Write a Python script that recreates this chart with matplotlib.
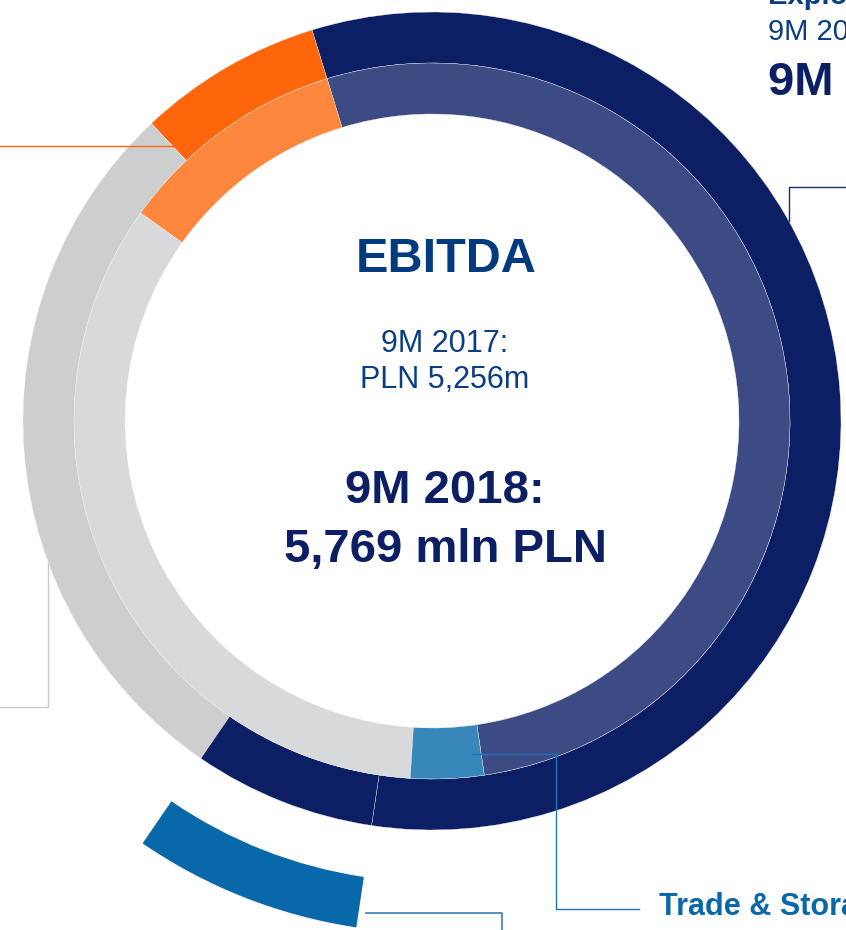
import matplotlib
matplotlib.use("Agg")
import matplotlib.pyplot as plt
from matplotlib.patches import Wedge

plt.rcParams['font.family'] = ['Liberation Sans', 'DejaVu Sans']

# shares of the full circle (%)
outer_names = ["Exploration & Production", "Generation (2017)", "Distribution (2017)", "Trade & Storage (2017)"]
outer_share = [57.1, 7.3, 28.4, 7.2]
outer_colors = ["#0C1E64", "#FF650A", "#CDCED0", "#0C1E64"]
outer_start = 261.5

inner_names = ["Exploration & Production", "Generation", "Distribution", "Trade & Storage"]
inner_share = [52.4, 10.4, 33.9, 3.3]
inner_colors = ["#3C4B84", "#FF873D", "#D8D9DB", "#3887BA"]
inner_start = 278.4

highlight_color = "#0868AA"

W, H = 846, 930
cx, cy = 432, H - 421
r_out, ring_w = 409, 51


def Y(y_img):
    return H - y_img


fig = plt.figure(figsize=(W / 100, H / 100), dpi=100)
ax = fig.add_axes([0, 0, 1, 1])

wp = dict(width=ring_w, edgecolor="#F4F4F6", linewidth=0.25)
ax.pie(outer_share, colors=outer_colors, startangle=outer_start, counterclock=True,
       radius=r_out, center=(cx, cy), wedgeprops=wp)
ax.pie(inner_share, colors=inner_colors, startangle=inner_start, counterclock=True,
       radius=r_out - ring_w, center=(cx, cy), wedgeprops=wp)

# pulled-out arc for the last outer segment
t2 = outer_start
t1 = t2 - outer_share[-1] * 3.6
ax.add_patch(Wedge((cx, cy), 512, t1, t2, width=ring_w, facecolor=highlight_color,
                   edgecolor="none"))

# leader lines
ax.plot([0, 175], [Y(146), Y(146)], color="#FF650A", lw=1)
ax.plot([48, 48, 0], [Y(563), Y(707), Y(707)], color="#CCCCCC", lw=1)
ax.plot([846, 789, 789], [Y(187), Y(187), Y(221)], color="#1A2A6E", lw=1)
ax.plot([472, 556, 556, 639], [Y(754), Y(754), Y(909), Y(909)], color="#1F72B8", lw=1)
ax.plot([366, 502, 502], [Y(913), Y(913), Y(930)], color="#3A80C0", lw=1.2)

# centre text
ax.text(446, Y(272), "EBITDA", ha="center", va="baseline", fontsize=35,
        fontweight="bold", color="#003B80")
ax.text(445, Y(352), "9M 2017:", ha="center", va="baseline", fontsize=22, color="#0B3C84")
ax.text(445, Y(388), "PLN 5,256m", ha="center", va="baseline", fontsize=22, color="#0B3C84")
ax.text(445, Y(503), "9M 2018:", ha="center", va="baseline", fontsize=34,
        fontweight="bold", color="#0C1E64")
ax.text(445, Y(562), "5,769 mln PLN", ha="center", va="baseline", fontsize=34,
        fontweight="bold", color="#0C1E64")

# segment labels (cut by the frame, as in the source)
ax.text(768, Y(4), "Exploration & Production", ha="left", va="baseline", fontsize=21,
        fontweight="bold", color="#0B3C84")
ax.text(768, Y(40), "9M 2017:", ha="left", va="baseline", fontsize=21, color="#0B3C84")
ax.text(768, Y(95), "9M 2018:", ha="left", va="baseline", fontsize=34,
        fontweight="bold", color="#0C1E64")
ax.text(659, Y(915), "Trade & Storage", ha="left", va="baseline", fontsize=22,
        fontweight="bold", color=highlight_color)

ax.set_xlim(0, W)
ax.set_ylim(0, H)
ax.set_aspect("equal")
ax.axis("off")

fig.savefig("out.png", dpi=100)
